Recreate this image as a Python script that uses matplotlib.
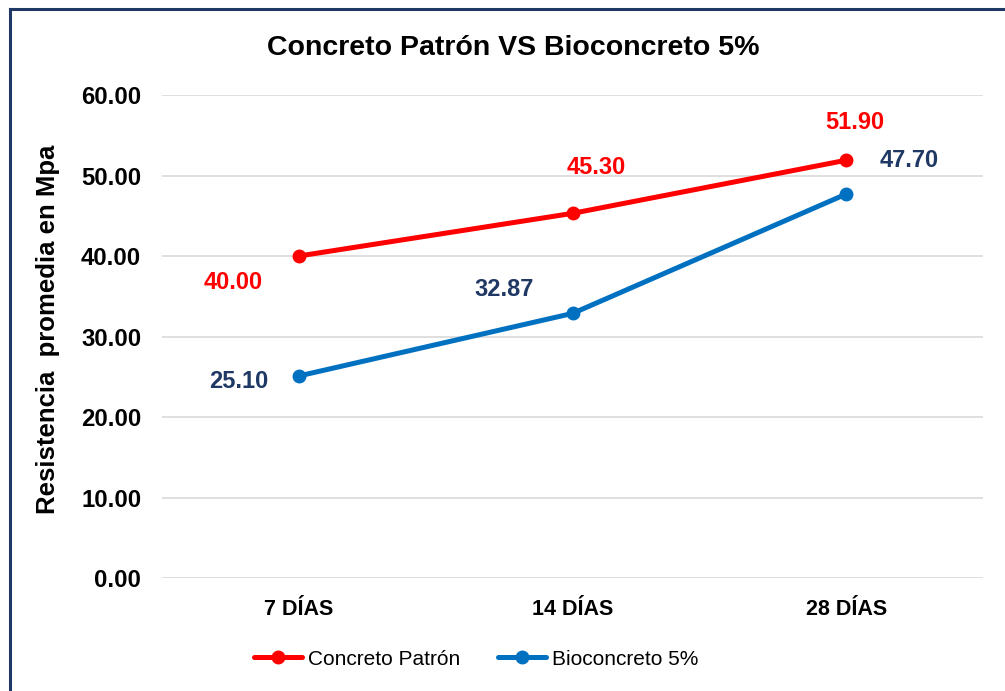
import matplotlib.pyplot as plt
from matplotlib.lines import Line2D

## chart data
dias = ["7 DÍAS", "14 DÍAS", "28 DÍAS"]
patron = [40.00, 45.30, 51.90]
bio = [25.10, 32.87, 47.70]
patron_lbl = ["40.00", "45.30", "51.90"]
bio_lbl = ["25.10", "32.87", "47.70"]

plt.rcParams['font.family'] = ['Liberation Sans', 'DejaVu Sans']

RED = "#FF0000"
BLUE = "#0070C0"
NAVY = "#1F3864"

fig = plt.figure(figsize=(10.05, 6.91), dpi=100)
ax = fig.add_axes([0.1612, 0.1635, 0.8170, 0.6990])

x = list(range(len(dias)))
ax.plot(x, patron, color=RED, lw=3.6, marker="o", ms=9, label="Concreto Patrón", solid_capstyle="round")
ax.plot(x, bio, color=BLUE, lw=3.6, marker="o", ms=9, label="Bioconcreto 5%", solid_capstyle="round")

# data labels (offsets in points)
off_p = [(-47, -19), (17, 33), (6, 27)]
off_b = [(-43, -4), (-49, 17), (45, 24)]
for i in x:
    ax.annotate(patron_lbl[i], (i, patron[i]), xytext=off_p[i], textcoords="offset points",
                ha="center", va="center", color=RED, fontsize=17, fontweight="bold")
    ax.annotate(bio_lbl[i], (i, bio[i]), xytext=off_b[i], textcoords="offset points",
                ha="center", va="center", color=NAVY, fontsize=17, fontweight="bold")

ax.set_xlim(-0.5, 2.5)
ax.set_ylim(0, 60)
ax.set_yticks(range(0, 61, 10))
ax.set_yticklabels([f"{v:.2f}" for v in range(0, 61, 10)])
ax.set_xticks(x)
ax.set_xticklabels(dias)
ax.tick_params(axis="both", length=0)
ax.tick_params(axis="y", pad=15, labelsize=17.2)
ax.tick_params(axis="x", pad=15, labelsize=15.5)
for lab in ax.get_xticklabels() + ax.get_yticklabels():
    lab.set_fontweight("bold")
ax.grid(axis="y", color="#D9D9D9", lw=1.2)
ax.set_axisbelow(True)
for s in ax.spines.values():
    s.set_visible(False)

ax.set_ylabel("Resistencia  promedia en Mpa", fontsize=18.5, fontweight="bold")
ax.yaxis.set_label_coords(-0.124, 0.515)

fig.text(0.511, 0.931, "Concreto Patrón VS Bioconcreto 5%", ha="center", va="center",
         fontsize=20.5, fontweight="bold")

leg = fig.legend(loc="center", bbox_to_anchor=(0.474, 0.046), ncol=2, frameon=False,
                 fontsize=15, handlelength=2.3, handletextpad=0.3, columnspacing=1.8)

# frame like the original (top and left only)
fig.add_artist(Line2D([0.0095, 0.0095], [0, 0.987], transform=fig.transFigure, color="#1F3864", lw=2.2))
fig.add_artist(Line2D([0.0095, 1.0], [0.987, 0.987], transform=fig.transFigure, color="#1F3864", lw=2.2))

fig.savefig("out.png", dpi=100)
